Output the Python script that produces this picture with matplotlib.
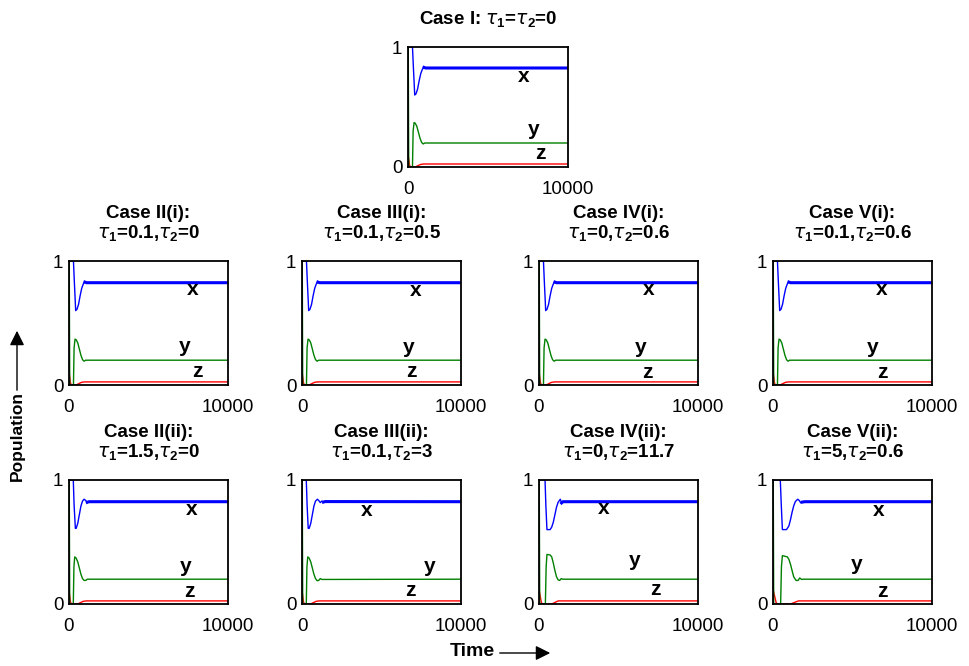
import matplotlib
matplotlib.use('Agg')
import matplotlib.pyplot as plt

plt.rcParams['font.family'] = ['Liberation Sans', 'DejaVu Sans']
plt.rcParams['mathtext.fontset'] = 'custom'
plt.rcParams['mathtext.rm'] = 'Liberation Sans'
plt.rcParams['mathtext.bf'] = 'Liberation Sans:bold'

# curves (time, value) for each kind of panel
# fast settling: Case I and all of the (i) cases
t_x_fast = [0, 280, 330, 420, 500, 600, 700, 800, 900, 1000, 1100, 10000]
x_fast = [1, 1, 0.85, 0.60, 0.61, 0.65, 0.72, 0.78, 0.815, 0.83, 0.825, 0.825]
t_y_fast = [0, 15, 45, 280, 320, 380, 450, 550, 650, 750, 850, 950, 1050, 10000]
y_fast = [0, 1, 0, 0, 0.30, 0.37, 0.365, 0.34, 0.29, 0.24, 0.205, 0.192, 0.2, 0.2]
t_z_fast = [0, 100, 200, 450, 600, 800, 1000, 10000]
z_fast = [0.11, 0.01, 0, 0, 0.01, 0.022, 0.025, 0.025]

# Case II(ii)
t_x_2b = [0, 270, 320, 400, 450, 550, 650, 750, 850, 950, 1050, 1150, 1250, 10000]
x_2b = [1, 1, 0.8, 0.61, 0.61, 0.65, 0.72, 0.79, 0.83, 0.845, 0.835, 0.82, 0.825, 0.825]
t_y_2b = [0, 15, 45, 270, 310, 360, 450, 550, 650, 750, 850, 950, 1050, 1150, 10000]
y_2b = [0, 1, 0, 0, 0.30, 0.38, 0.37, 0.34, 0.29, 0.24, 0.205, 0.19, 0.19, 0.2, 0.2]
t_z_2b = [0, 100, 200, 550, 700, 900, 1100, 10000]
z_2b = [0.11, 0.01, 0, 0, 0.01, 0.022, 0.025, 0.025]

# Case III(ii)
t_x_3b = [0, 270, 320, 390, 450, 550, 650, 750, 850, 970, 1050, 1150, 1250, 1350, 1450, 10000]
x_3b = [1, 1, 0.8, 0.61, 0.61, 0.65, 0.72, 0.79, 0.83, 0.845, 0.835, 0.818, 0.83, 0.822, 0.826, 0.825]
t_y_3b = [0, 15, 45, 270, 310, 360, 450, 550, 650, 750, 850, 950, 1050, 1150, 1250, 10000]
y_3b = [0, 1, 0, 0, 0.30, 0.38, 0.37, 0.34, 0.29, 0.24, 0.205, 0.188, 0.19, 0.205, 0.198, 0.2]
t_z_3b = [0, 100, 200, 550, 700, 900, 1100, 10000]
z_3b = [0.11, 0.01, 0, 0, 0.01, 0.022, 0.025, 0.025]

# Case IV(ii)
t_x_4b = [0, 380, 430, 500, 700, 800, 900, 1000, 1100, 1200, 1340, 1420, 1500, 10000]
x_4b = [1, 1, 0.8, 0.60, 0.60, 0.62, 0.66, 0.72, 0.78, 0.82, 0.845, 0.815, 0.825, 0.825]
t_y_4b = [0, 15, 45, 400, 450, 500, 700, 800, 900, 1000, 1100, 1200, 1300, 1400, 1500, 10000]
y_4b = [0, 1, 0, 0, 0.30, 0.40, 0.395, 0.38, 0.33, 0.27, 0.22, 0.195, 0.19, 0.205, 0.2, 0.2]
t_z_4b = [0, 150, 250, 800, 1000, 1200, 10000]
z_4b = [0.12, 0.01, 0, 0, 0.012, 0.025, 0.025]

# Case V(ii)
t_x_5b = [0, 460, 520, 590, 850, 1000, 1100, 1200, 1300, 1400, 1550, 1650, 1750, 1850, 2000, 10000]
x_5b = [1, 1, 0.8, 0.60, 0.60, 0.63, 0.68, 0.74, 0.79, 0.825, 0.845, 0.835, 0.815, 0.822, 0.825, 0.825]
t_y_5b = [0, 15, 45, 480, 530, 590, 900, 1000, 1100, 1200, 1300, 1450, 1580, 1680, 1800, 1900, 10000]
y_5b = [0, 1, 0, 0, 0.30, 0.39, 0.38, 0.36, 0.32, 0.27, 0.22, 0.19, 0.19, 0.21, 0.198, 0.2, 0.2]
t_z_5b = [0, 200, 300, 1100, 1300, 1600, 10000]
z_5b = [0.12, 0.01, 0, 0, 0.01, 0.025, 0.025]

titles = [
    r'Case I: $\tau_{\mathbf{1}}$=$\tau_{\mathbf{2}}$=0',
    'Case II(i):\n' + r'$\tau_{\mathbf{1}}$=0.1,$\tau_{\mathbf{2}}$=0',
    'Case III(i):\n' + r'$\tau_{\mathbf{1}}$=0.1,$\tau_{\mathbf{2}}$=0.5',
    'Case IV(i):\n' + r'$\tau_{\mathbf{1}}$=0,$\tau_{\mathbf{2}}$=0.6',
    'Case V(i):\n' + r'$\tau_{\mathbf{1}}$=0.1,$\tau_{\mathbf{2}}$=0.6',
    'Case II(ii):\n' + r'$\tau_{\mathbf{1}}$=1.5,$\tau_{\mathbf{2}}$=0',
    'Case III(ii):\n' + r'$\tau_{\mathbf{1}}$=0.1,$\tau_{\mathbf{2}}$=3',
    'Case IV(ii):\n' + r'$\tau_{\mathbf{1}}$=0,$\tau_{\mathbf{2}}$=11.7',
    'Case V(ii):\n' + r'$\tau_{\mathbf{1}}$=5,$\tau_{\mathbf{2}}$=0.6',
]

fast = (t_x_fast, x_fast, t_y_fast, y_fast, t_z_fast, z_fast)
curves = [
    fast, fast, fast, fast, fast,
    (t_x_2b, x_2b, t_y_2b, y_2b, t_z_2b, z_2b),
    (t_x_3b, x_3b, t_y_3b, y_3b, t_z_3b, z_3b),
    (t_x_4b, x_4b, t_y_4b, y_4b, t_z_4b, z_4b),
    (t_x_5b, x_5b, t_y_5b, y_5b, t_z_5b, z_5b),
]

# where the x, y, z letters sit (time, value)
label_x = [(7250, 0.75), (7800, 0.77), (7170, 0.76), (6920, 0.77), (6810, 0.77),
           (7740, 0.76), (4090, 0.75), (4090, 0.77), (6630, 0.755)]
label_y = [(7875, 0.31), (7300, 0.31), (6730, 0.30), (6410, 0.30), (6250, 0.30),
           (7360, 0.30), (8050, 0.30), (6040, 0.35), (5250, 0.32)]
label_z = [(8300, 0.11), (8050, 0.11), (6860, 0.11), (6790, 0.10), (6880, 0.10),
           (7550, 0.10), (6790, 0.105), (7300, 0.12), (6880, 0.10)]

W, H = 969, 666
# panel boxes in pixels: left, top, width, height
boxes = [(408, 47, 160, 120)]
for top in (261, 480):
    for left in (69, 302, 539, 773):
        boxes.append((left, top, 159, 124))

fig = plt.figure(figsize=(W / 100, H / 100), dpi=100)

for i in range(9):
    left, top, w, h = boxes[i]
    ax = fig.add_axes([left / W, 1 - (top + h) / H, w / W, h / H])
    tx, xv, ty, yv, tz, zv = curves[i]
    ax.plot(tz, zv, color='#ff0000', lw=1.0)
    ax.plot(ty, yv, color='#008000', lw=1.0)
    ax.plot(tx, xv, color='#0000ff', lw=1.0)
    # the settled part of x is drawn heavier, as in the original
    ax.plot(tx[-3:], xv[-3:], color='#0000ff', lw=2.2)
    ax.set_xlim(0, 10000)
    ax.set_ylim(0, 1)
    ax.set_xticks([0, 10000])
    ax.set_xticklabels(['0', '10000'])
    ax.set_yticks([0, 1])
    ax.set_yticklabels(['0', '1'])
    ax.tick_params(length=0, labelsize=13.5)
    ax.tick_params(axis='x', pad=10)
    ax.tick_params(axis='y', pad=4)
    for s in ax.spines.values():
        s.set_linewidth(1.3)
    ax.set_title(titles[i], fontsize=13.5, fontweight='bold', pad=16, linespacing=1.15)
    for lab, (px, py) in zip(['x', 'y', 'z'], [label_x[i], label_y[i], label_z[i]]):
        ax.text(px, py, lab, fontsize=15, fontweight='bold', ha='center', va='center')

# axis captions with arrows
fig.text(17 / W, 1 - 436 / H, 'Population', rotation=90, fontsize=12.5,
         fontweight='bold', ha='center', va='center')
fig.add_artist(matplotlib.patches.FancyArrowPatch(
    (17 / W, 1 - 393 / H), (17 / W, 1 - 328 / H), transform=fig.transFigure,
    arrowstyle='-|>', mutation_scale=22, lw=1.0, color='black'))
fig.text(472 / W, 1 - 652 / H, 'Time', fontsize=14, fontweight='bold',
         ha='center', va='center')
fig.add_artist(matplotlib.patches.FancyArrowPatch(
    (497 / W, 1 - 653 / H), (553 / W, 1 - 653 / H), transform=fig.transFigure,
    arrowstyle='-|>', mutation_scale=22, lw=1.0, color='black'))

fig.savefig('out.png', dpi=100)
